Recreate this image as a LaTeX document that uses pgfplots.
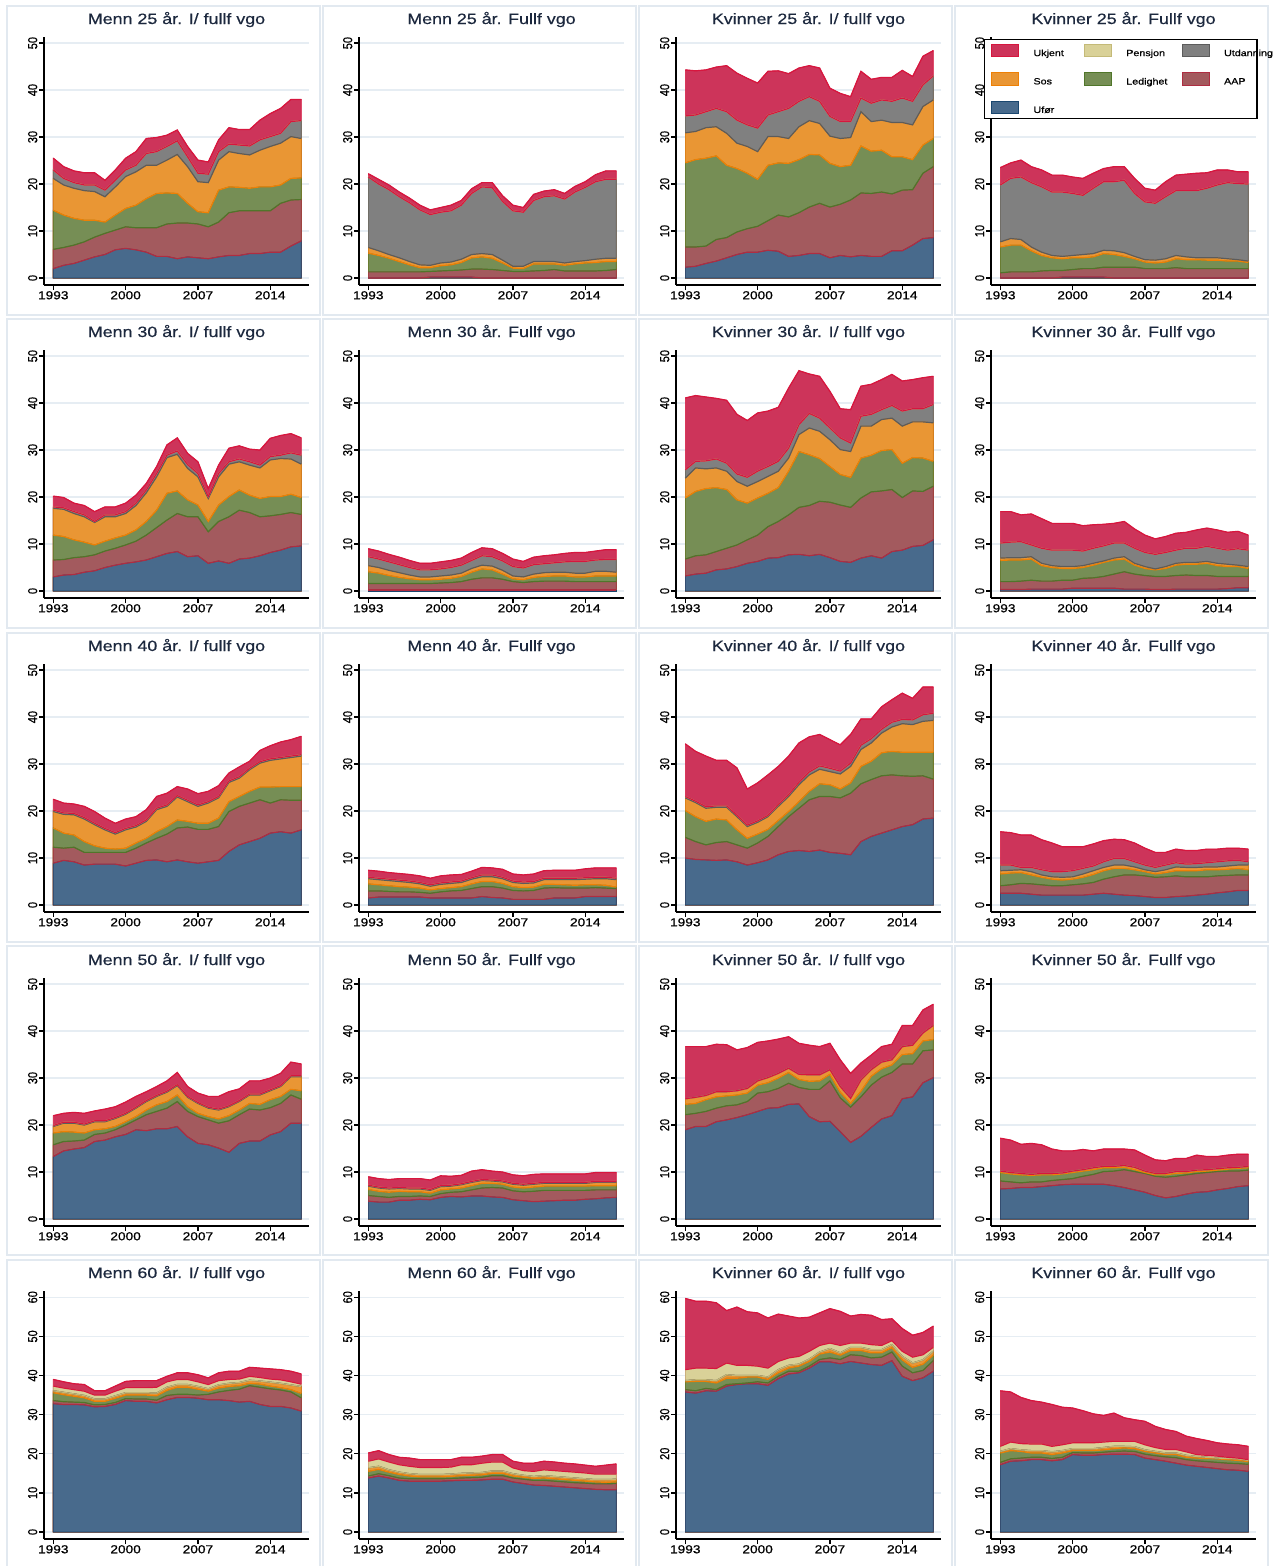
\documentclass[border=0pt]{standalone}
\usepackage{fontspec}
\setmainfont{Liberation Sans}
\newfontfamily\tickfont{Liberation Sans}[FakeBold=0.7]
\newfontfamily\titlefont{Liberation Sans}[FakeBold=0.35]
\usepackage{graphicx}
\usepackage{pgfplots}
\usepackage{pgfplotstable}
\pgfplotsset{compat=1.18}

\definecolor{cUf}{RGB}{72,106,140}   \definecolor{cUfD}{RGB}{26,71,111}
\definecolor{cAAP}{RGB}{163,90,94}   \definecolor{cAAPD}{RGB}{175,45,65}
\definecolor{cLed}{RGB}{118,142,85}  \definecolor{cLedD}{RGB}{80,118,42}
\definecolor{cSos}{RGB}{233,150,52}  \definecolor{cSosD}{RGB}{238,128,5}
\definecolor{cUtd}{RGB}{128,128,128} \definecolor{cUtdD}{RGB}{92,92,92}
\definecolor{cPen}{RGB}{217,209,152} \definecolor{cPenD}{RGB}{196,186,120}
\definecolor{cUk}{RGB}{205,52,90}    \definecolor{cUkD}{RGB}{215,22,62}
\definecolor{gridc}{RGB}{230,237,243}
\definecolor{panelb}{RGB}{226,233,240}
\definecolor{titlec}{RGB}{28,40,62}

\newcommand{\sx}[1]{\scalebox{1.19}[1]{#1}}
\newcommand{\sy}[1]{\scalebox{1}[1.19]{#1}}
\newcommand{\lgA}[1]{\makebox[65pt][l]{\hspace{15pt}\sx{#1}}}
\newcommand{\lgB}[1]{\makebox[71pt][l]{\hspace{15pt}\sx{#1}}}
\newcommand{\lgC}[1]{\makebox[41pt][l]{\hspace{14pt}\sx{#1}}}

% columns: yr, a=Ufor top, b=AAP top, c=Ledighet top, d=Sos top, e=Utdanning top, f=Pensjon top, g=Ukjent top (total)
\pgfplotstableread{
yr a b c d e f g
1993 2.0 6.1 14.4 21.2 23.0 23.0 25.5
1994 2.7 6.5 13.4 19.8 21.2 21.2 23.7
1995 3.1 7.0 12.7 19.1 20.3 20.3 22.8
1996 3.8 7.7 12.3 18.6 19.8 19.8 22.4
1997 4.5 8.7 12.3 18.4 19.8 19.8 22.4
1998 5.0 9.5 11.9 17.3 18.7 18.7 20.8
1999 6.0 10.2 13.4 19.4 20.8 20.8 23.0
2000 6.3 10.9 14.8 21.6 23.0 23.0 25.5
2001 6.0 10.7 15.5 22.6 24.0 24.0 26.9
2002 5.5 10.7 16.9 24.0 26.5 26.5 29.7
2003 4.6 10.7 18.0 24.0 26.9 26.9 29.9
2004 4.6 11.5 18.1 25.1 28.0 28.0 30.4
2005 4.1 11.7 18.0 26.3 29.2 29.2 31.5
2006 4.5 11.7 15.9 23.7 25.8 25.8 28.0
2007 4.3 11.5 14.1 20.5 22.3 22.3 25.1
2008 4.1 10.9 13.9 20.3 22.1 22.1 24.7
2009 4.5 11.9 18.7 25.1 26.9 26.9 29.4
2010 4.8 13.9 19.4 26.9 28.5 28.5 32.0
2011 4.8 14.3 19.3 26.5 28.3 28.3 31.6
2012 5.2 14.3 19.1 26.2 28.1 28.1 31.6
2013 5.2 14.3 19.4 27.2 29.4 29.4 33.6
2014 5.5 14.3 19.4 28.0 30.1 30.1 35.0
2015 5.5 15.9 19.8 28.7 30.8 30.8 36.1
2016 6.8 16.6 21.2 30.1 33.3 33.3 38.0
2017 7.9 16.7 21.3 29.7 33.5 33.5 38.0
}\pA
\pgfplotstableread{
yr a b c d e f g
1993 0.0 1.3 5.3 6.5 21.5 21.5 22.2
1994 0.0 1.3 4.8 5.8 20.0 20.0 21.0
1995 0.0 1.3 4.2 5.0 18.8 18.8 19.8
1996 0.0 1.3 3.5 4.3 17.3 17.3 18.3
1997 0.0 1.3 2.8 3.5 16.0 16.0 17.0
1998 0.0 1.3 2.2 2.8 14.5 14.5 15.5
1999 0.2 1.4 2.2 2.7 13.5 13.5 14.5
2000 0.2 1.5 2.6 3.2 14.0 14.0 15.0
2001 0.2 1.6 2.8 3.4 14.3 14.3 15.5
2002 0.2 1.7 3.3 4.0 15.5 15.5 16.5
2003 0.2 1.9 4.3 5.0 18.0 18.0 19.0
2004 0.0 1.9 4.5 5.2 19.4 19.4 20.3
2005 0.0 1.8 4.2 5.0 19.2 19.2 20.3
2006 0.0 1.6 3.2 3.8 16.3 16.3 17.5
2007 0.0 1.4 2.1 2.5 14.3 14.3 15.5
2008 0.0 1.4 2.0 2.5 14.0 14.0 15.0
2009 0.0 1.5 3.0 3.5 16.5 16.5 17.8
2010 0.0 1.6 3.0 3.5 17.3 17.3 18.5
2011 0.0 1.8 3.0 3.5 17.5 17.5 18.8
2012 0.0 1.5 2.7 3.2 16.8 16.8 18.0
2013 0.0 1.5 3.0 3.5 18.3 18.3 19.5
2014 0.0 1.5 3.2 3.7 19.3 19.3 20.5
2015 0.0 1.5 3.3 4.0 20.5 20.5 22.0
2016 0.0 1.6 3.5 4.2 21.0 21.0 22.8
2017 0.0 1.8 3.5 4.2 21.0 21.0 22.8
}\pB
\pgfplotstableread{
yr a b c d e f g
1993 2.3 6.6 24.5 30.9 34.5 34.5 44.3
1994 2.5 6.6 25.2 31.2 34.7 34.7 44.1
1995 3.1 6.8 25.5 32.0 35.4 35.4 44.3
1996 3.6 8.2 26.0 32.2 36.1 36.1 44.9
1997 4.3 8.6 24.0 30.8 35.4 35.4 45.2
1998 5.0 9.8 23.3 28.7 33.6 33.6 43.6
1999 5.5 10.5 22.3 28.0 32.6 32.6 42.5
2000 5.5 11.0 21.0 26.9 31.9 31.9 41.5
2001 5.9 12.2 24.0 30.1 34.7 34.7 44.0
2002 5.7 13.4 24.5 30.1 35.4 35.4 44.1
2003 4.6 13.0 24.4 29.7 36.1 36.1 43.5
2004 4.8 13.9 25.2 32.2 37.6 37.6 44.7
2005 5.2 15.1 26.3 33.5 38.6 38.6 45.2
2006 5.2 15.9 26.2 32.9 37.6 37.6 44.7
2007 4.3 15.1 24.4 30.2 34.4 34.4 40.4
2008 4.8 15.7 23.7 29.7 33.3 33.3 39.3
2009 4.5 16.6 24.0 29.9 33.3 33.3 38.6
2010 4.8 18.1 28.1 35.4 38.3 38.3 44.0
2011 4.6 18.0 27.0 33.3 37.2 37.2 42.3
2012 4.6 18.3 27.2 33.6 37.9 37.9 42.7
2013 5.8 17.9 25.8 33.1 37.6 37.6 42.7
2014 5.8 18.7 25.8 33.1 38.3 38.3 44.2
2015 7.0 18.8 25.2 32.6 37.6 37.6 42.9
2016 8.4 22.3 28.3 36.5 41.1 41.1 47.2
2017 8.6 23.7 29.7 37.9 43.0 43.0 48.4
}\pC
\pgfplotstableread{
yr a b c d e f g
1993 0.0 1.1 6.6 7.7 19.8 19.8 23.5
1994 0.0 1.3 7.0 8.4 21.2 21.2 24.5
1995 0.0 1.3 7.0 8.2 21.5 21.5 25.1
1996 0.0 1.3 5.8 6.6 20.3 20.3 23.7
1997 0.0 1.5 4.8 5.5 19.4 19.4 23.0
1998 0.0 1.6 4.3 4.8 18.3 18.3 21.9
1999 0.2 1.6 4.1 4.6 18.3 18.3 21.9
2000 0.2 1.8 4.3 4.8 18.0 18.0 21.5
2001 0.2 2.0 4.3 5.0 17.6 17.6 21.2
2002 0.2 2.0 4.5 5.2 19.1 19.1 22.3
2003 0.2 2.3 5.2 5.9 20.5 20.5 23.3
2004 0.0 2.3 5.0 5.8 20.5 20.5 23.7
2005 0.0 2.3 4.6 5.4 20.8 20.8 23.7
2006 0.0 2.3 4.1 4.6 18.0 18.0 21.2
2007 0.0 2.0 3.4 3.9 16.2 16.2 19.1
2008 0.0 2.0 3.2 3.8 15.9 15.9 18.7
2009 0.0 2.0 3.4 4.1 17.3 17.3 20.5
2010 0.0 2.2 4.1 4.8 18.6 18.6 21.9
2011 0.0 2.0 3.9 4.5 18.6 18.6 22.1
2012 0.0 2.0 3.9 4.3 18.6 18.6 22.3
2013 0.0 2.0 3.8 4.3 19.1 19.1 22.4
2014 0.0 2.0 3.8 4.3 19.8 19.8 23.0
2015 0.0 2.0 3.6 4.1 20.3 20.3 23.0
2016 0.0 2.0 3.6 3.9 20.1 20.1 22.6
2017 0.0 2.0 3.3 3.6 20.0 20.0 22.6
}\pD
\pgfplotstableread{
yr a b c d e f g
1993 3.0 6.6 11.9 17.6 17.9 17.9 20.2
1994 3.4 6.7 11.6 17.4 17.7 17.7 19.9
1995 3.5 7.1 10.9 16.5 16.9 16.9 18.7
1996 4.0 7.3 10.4 15.8 16.2 16.2 18.2
1997 4.3 7.7 9.8 14.6 14.8 14.8 16.9
1998 5.0 8.5 10.6 15.8 16.2 16.2 17.9
1999 5.5 9.1 11.3 15.8 16.2 16.2 17.9
2000 5.9 9.8 11.9 16.5 16.9 16.9 18.7
2001 6.2 10.6 13.0 18.2 18.7 18.7 20.4
2002 6.6 11.9 14.8 20.9 21.5 21.5 22.9
2003 7.3 13.5 17.2 24.3 25.0 25.0 26.5
2004 8.0 15.1 20.8 28.4 28.9 28.9 31.1
2005 8.4 16.5 21.3 29.1 29.8 29.8 32.6
2006 7.3 15.8 19.4 26.1 26.9 26.9 29.3
2007 7.5 15.8 18.3 24.3 25.0 25.0 27.5
2008 5.9 12.6 14.8 19.7 20.1 20.1 21.8
2009 6.4 14.8 18.3 24.3 25.0 25.0 26.8
2010 5.9 15.8 20.1 27.0 27.5 27.5 30.4
2011 6.8 17.2 21.5 27.5 28.1 28.1 30.9
2012 7.0 16.7 20.4 26.8 27.5 27.5 30.2
2013 7.5 15.8 19.7 26.2 26.8 26.8 30.0
2014 8.2 16.0 20.1 27.9 28.6 28.6 32.5
2015 8.7 16.3 20.1 28.2 28.9 28.9 33.1
2016 9.4 16.7 20.6 28.1 29.4 29.4 33.5
2017 9.6 16.3 19.9 27.0 28.9 28.9 32.6
}\pE
\pgfplotstableread{
yr a b c d e f g
1993 0.2 1.6 4.1 5.4 7.3 7.3 9.0
1994 0.2 1.6 3.8 5.0 6.8 6.8 8.5
1995 0.2 1.6 3.3 4.4 6.2 6.2 7.8
1996 0.2 1.6 2.9 3.9 5.6 5.6 7.2
1997 0.2 1.6 2.6 3.4 5.0 5.0 6.5
1998 0.2 1.6 2.4 3.0 4.5 4.5 5.9
1999 0.2 1.6 2.4 3.0 4.5 4.5 5.9
2000 0.2 1.7 2.5 3.2 4.7 4.7 6.2
2001 0.2 1.8 2.7 3.4 5.0 5.0 6.5
2002 0.2 2.0 3.1 3.8 5.5 5.5 7.0
2003 0.2 2.5 4.0 4.8 6.5 6.5 8.2
2004 0.2 2.8 4.7 5.5 7.5 7.5 9.2
2005 0.2 2.8 4.5 5.3 7.3 7.3 9.0
2006 0.2 2.5 3.6 4.4 6.4 6.4 8.0
2007 0.2 2.0 2.6 3.2 5.2 5.2 6.8
2008 0.2 1.8 2.4 3.0 4.9 4.9 6.3
2009 0.2 2.0 2.9 3.6 5.6 5.6 7.2
2010 0.2 2.1 3.1 3.9 5.8 5.8 7.5
2011 0.2 2.1 3.2 4.0 6.0 6.0 7.7
2012 0.2 2.1 3.2 4.0 6.2 6.2 8.0
2013 0.2 2.0 3.0 3.8 6.3 6.3 8.2
2014 0.2 2.0 3.0 3.8 6.3 6.3 8.2
2015 0.2 2.0 3.2 4.2 6.6 6.6 8.5
2016 0.2 2.0 3.2 4.2 6.7 6.7 8.8
2017 0.2 2.0 3.2 4.0 6.7 6.7 8.8
}\pF
\pgfplotstableread{
yr a b c d e f g
1993 3.2 6.8 19.8 24.0 25.8 25.8 41.1
1994 3.6 7.5 21.2 26.2 27.6 27.6 41.6
1995 3.8 7.7 21.8 26.0 27.7 27.7 41.3
1996 4.5 8.4 22.0 26.2 28.1 28.1 41.0
1997 4.7 9.1 21.6 25.5 27.2 27.2 40.6
1998 5.2 9.8 19.4 23.3 24.9 24.9 37.6
1999 5.9 10.9 18.7 22.3 24.2 24.2 36.3
2000 6.3 11.9 19.8 23.3 25.5 25.5 37.9
2001 7.0 13.7 20.8 24.4 26.5 26.5 38.3
2002 7.1 14.8 22.0 25.5 27.6 27.6 39.1
2003 7.7 16.2 25.5 28.3 30.4 30.4 43.2
2004 7.8 17.8 29.7 33.3 35.4 35.4 46.9
2005 7.5 18.2 29.0 34.7 37.8 37.8 46.2
2006 7.8 19.1 28.2 34.0 36.8 36.8 45.7
2007 7.1 18.9 26.5 32.2 34.7 34.7 42.5
2008 6.3 18.3 24.8 30.1 32.6 32.6 38.8
2009 6.1 17.8 24.2 29.7 31.5 31.5 38.6
2010 7.0 19.8 28.3 35.1 37.2 37.2 43.6
2011 7.5 21.1 28.9 35.1 37.6 37.6 44.0
2012 7.0 21.3 29.9 36.5 38.6 38.6 45.0
2013 8.4 21.6 30.1 36.8 39.5 39.5 46.1
2014 8.7 19.9 27.2 35.1 38.3 38.3 44.7
2015 9.5 21.3 28.4 36.0 38.8 38.8 45.0
2016 9.7 21.2 28.3 36.0 38.8 38.8 45.4
2017 10.9 22.3 27.6 35.8 39.7 39.7 45.7
}\pG
\pgfplotstableread{
yr a b c d e f g
1993 0.3 2.0 6.5 7.0 10.2 10.2 16.9
1994 0.3 2.0 6.6 7.1 10.4 10.4 16.9
1995 0.3 2.1 6.6 7.1 10.5 10.5 16.2
1996 0.4 2.3 6.8 7.3 9.8 9.8 16.4
1997 0.4 2.1 5.4 5.9 9.1 9.1 15.4
1998 0.4 2.1 5.0 5.4 8.7 8.7 14.4
1999 0.4 2.3 4.8 5.2 8.7 8.7 14.4
2000 0.6 2.3 4.8 5.2 8.7 8.7 14.4
2001 0.6 2.7 5.0 5.4 8.5 8.5 13.9
2002 0.6 2.8 5.5 5.9 9.1 9.1 14.1
2003 0.6 3.1 6.1 6.4 9.6 9.6 14.2
2004 0.6 3.6 6.6 7.0 10.2 10.2 14.4
2005 0.4 4.1 6.8 7.3 10.2 10.2 14.8
2006 0.4 3.6 5.5 5.9 9.1 9.1 13.2
2007 0.4 3.3 4.8 5.2 8.2 8.2 11.9
2008 0.3 3.1 4.5 4.7 7.8 7.8 11.1
2009 0.3 3.1 4.8 5.2 8.2 8.2 11.6
2010 0.4 3.3 5.5 5.9 8.7 8.7 12.3
2011 0.4 3.4 5.7 6.1 9.1 9.1 12.5
2012 0.4 3.3 5.7 6.1 9.1 9.1 13.0
2013 0.4 3.3 5.9 6.3 9.5 9.5 13.4
2014 0.4 3.1 5.4 5.9 9.1 9.1 13.0
2015 0.5 3.1 5.2 5.7 8.7 8.7 12.5
2016 0.7 3.1 5.2 5.5 9.0 9.0 12.7
2017 0.7 3.1 4.8 5.2 8.7 8.7 11.9
}\pH
\pgfplotstableread{
yr a b c d e f g
1993 8.9 12.3 16.4 19.9 20.2 20.2 22.5
1994 9.5 12.1 15.3 19.3 19.6 19.6 21.7
1995 9.2 12.3 14.9 19.2 19.5 19.5 21.5
1996 8.5 11.2 13.5 18.3 18.6 18.6 21.0
1997 8.7 11.2 12.6 17.1 17.4 17.4 19.9
1998 8.7 11.2 12.1 16.0 16.3 16.3 18.5
1999 8.7 11.2 11.9 15.1 15.4 15.4 17.4
2000 8.3 11.2 12.1 16.0 16.3 16.3 18.3
2001 8.9 12.1 13.2 16.6 16.9 16.9 18.8
2002 9.5 13.2 14.2 17.8 18.1 18.1 20.3
2003 9.6 14.2 15.6 20.3 20.6 20.6 23.1
2004 9.2 15.1 16.7 21.0 21.3 21.3 23.8
2005 9.6 16.4 18.1 23.0 23.3 23.3 25.2
2006 9.2 16.6 17.8 22.0 22.3 22.3 24.7
2007 8.9 16.1 17.4 21.0 21.3 21.3 23.7
2008 9.2 16.1 17.4 21.7 22.0 22.0 24.2
2009 9.5 16.7 18.5 22.8 23.1 23.1 25.4
2010 11.4 19.9 22.0 26.1 26.4 26.4 28.1
2011 12.8 21.0 23.1 27.0 27.3 27.3 29.4
2012 13.5 21.7 24.2 28.8 29.1 29.1 30.6
2013 14.2 22.4 25.1 30.2 30.5 30.5 32.9
2014 15.3 21.7 25.1 30.8 31.1 31.1 33.9
2015 15.6 22.4 25.2 31.1 31.4 31.4 34.7
2016 15.3 22.3 25.2 31.4 31.7 31.7 35.2
2017 16.0 22.3 25.2 31.7 32.0 32.0 35.9
}\pI
\pgfplotstableread{
yr a b c d e f g
1993 1.5 3.0 4.5 5.6 5.9 5.9 7.4
1994 1.7 3.0 4.3 5.4 5.7 5.7 7.2
1995 1.7 2.9 4.1 5.2 5.5 5.5 6.9
1996 1.7 2.8 3.9 5.0 5.3 5.3 6.7
1997 1.7 2.8 3.8 4.8 5.1 5.1 6.5
1998 1.7 2.7 3.6 4.5 4.8 4.8 6.2
1999 1.5 2.5 3.2 4.0 4.3 4.3 5.7
2000 1.5 2.8 3.5 4.4 4.7 4.7 6.2
2001 1.5 3.0 3.7 4.6 4.9 4.9 6.4
2002 1.5 3.1 3.9 4.8 5.1 5.1 6.5
2003 1.5 3.5 4.5 5.5 5.8 5.8 7.2
2004 1.8 3.9 5.0 6.0 6.4 6.4 8.0
2005 1.6 3.9 5.0 6.0 6.4 6.4 7.9
2006 1.5 3.6 4.6 5.6 5.9 5.9 7.6
2007 1.2 3.1 3.9 4.8 5.1 5.1 6.6
2008 1.2 3.0 3.7 4.6 4.9 4.9 6.4
2009 1.2 3.1 3.8 4.7 5.0 5.0 6.6
2010 1.2 3.6 4.4 5.4 5.7 5.7 7.3
2011 1.5 3.7 4.4 5.4 5.7 5.7 7.4
2012 1.5 3.6 4.3 5.4 5.7 5.7 7.4
2013 1.5 3.6 4.2 5.4 5.7 5.7 7.4
2014 1.8 3.6 4.3 5.5 5.8 5.8 7.7
2015 1.8 3.7 4.3 5.6 5.9 5.9 7.9
2016 1.8 3.6 4.2 5.6 5.9 5.9 7.9
2017 1.8 3.5 3.8 5.4 5.7 5.7 7.9
}\pJ
\pgfplotstableread{
yr a b c d e f g
1993 10.0 14.4 20.1 22.8 23.1 23.1 34.3
1994 9.7 13.5 18.8 21.8 22.1 22.1 32.7
1995 9.6 12.8 17.8 20.6 20.9 20.9 31.7
1996 9.5 13.3 18.3 20.8 21.1 21.1 30.8
1997 9.6 13.5 18.1 20.8 21.1 21.1 30.8
1998 9.2 12.8 16.0 18.8 19.1 19.1 29.2
1999 8.5 12.1 14.2 16.7 17.0 17.0 24.7
2000 9.0 13.2 15.1 17.6 17.9 17.9 26.0
2001 9.6 14.6 16.1 18.8 19.1 19.1 27.7
2002 10.7 16.7 18.0 21.0 21.4 21.4 29.5
2003 11.4 18.8 19.9 23.1 23.5 23.5 31.7
2004 11.6 20.6 22.0 25.6 26.1 26.1 34.5
2005 11.4 22.4 24.2 27.7 28.3 28.3 35.8
2006 11.7 23.1 25.8 28.9 29.6 29.6 36.3
2007 11.2 23.1 25.6 28.4 29.1 29.1 35.2
2008 11.0 22.8 24.7 27.9 28.5 28.5 34.1
2009 10.7 23.8 26.0 29.5 30.2 30.2 36.3
2010 13.5 25.8 29.5 33.1 34.0 34.0 39.6
2011 14.6 26.7 30.6 34.5 35.4 35.4 39.6
2012 15.3 27.5 32.4 36.6 37.4 37.4 42.2
2013 16.0 27.7 32.7 37.9 38.9 38.9 43.7
2014 16.7 27.5 32.5 38.6 39.5 39.5 45.1
2015 17.1 27.4 32.5 38.4 39.4 39.4 44.0
2016 18.3 27.5 32.5 39.1 40.5 40.5 46.4
2017 18.5 26.8 32.5 39.3 40.8 40.8 46.4
}\pK
\pgfplotstableread{
yr a b c d e f g
1993 2.5 4.1 6.6 7.3 8.5 8.5 15.6
1994 2.5 4.3 6.8 7.4 8.5 8.5 15.4
1995 2.5 4.6 6.9 7.5 8.0 8.0 14.9
1996 2.3 4.5 6.4 7.1 8.0 8.0 14.9
1997 2.1 4.3 5.9 6.4 7.5 7.5 13.9
1998 2.1 4.1 5.5 6.0 7.1 7.1 13.2
1999 2.1 4.1 5.3 5.9 7.1 7.1 12.4
2000 2.1 4.3 5.5 6.0 7.3 7.3 12.4
2001 2.1 4.5 5.9 6.6 7.8 7.8 12.4
2002 2.3 4.8 6.5 7.3 8.3 8.3 13.0
2003 2.5 5.5 7.3 8.0 9.2 9.2 13.7
2004 2.3 6.0 7.8 8.5 9.9 9.9 14.0
2005 2.1 6.4 7.8 8.5 9.9 9.9 13.9
2006 2.0 6.4 7.5 8.1 9.2 9.2 13.2
2007 1.8 6.2 7.1 7.5 8.5 8.5 12.1
2008 1.6 5.9 6.6 7.1 8.0 8.0 11.2
2009 1.6 6.0 6.9 7.5 8.5 8.5 11.2
2010 1.8 6.2 7.3 8.1 9.0 9.0 11.9
2011 1.9 6.0 7.3 8.0 8.7 8.7 11.6
2012 2.1 6.0 7.3 8.0 8.8 8.8 11.6
2013 2.3 6.0 7.5 8.1 9.0 9.0 11.9
2014 2.6 6.2 7.5 8.1 9.2 9.2 11.9
2015 2.8 6.3 7.6 8.3 9.4 9.4 12.1
2016 3.1 6.4 7.8 8.5 9.5 9.5 12.1
2017 3.1 6.4 7.5 8.5 9.2 9.2 11.9
}\pL
\pgfplotstableread{
yr a b c d e f g
1993 13.3 15.8 18.3 19.7 19.9 19.9 22.0
1994 14.5 16.5 18.6 20.4 20.6 20.6 22.5
1995 14.9 16.6 18.5 20.4 20.6 20.6 22.7
1996 15.2 16.8 18.3 20.0 20.2 20.2 22.5
1997 16.5 18.0 19.0 20.7 20.9 20.9 23.0
1998 16.8 18.3 19.2 20.7 20.9 20.9 23.4
1999 17.5 19.0 19.7 21.4 21.6 21.6 23.9
2000 18.0 20.0 20.7 22.3 22.5 22.5 24.9
2001 19.0 21.1 21.8 23.6 23.8 23.8 26.1
2002 18.8 22.2 23.2 25.0 25.2 25.2 27.1
2003 19.2 22.9 24.3 26.1 26.3 26.3 28.2
2004 19.2 23.6 25.0 27.0 27.2 27.2 29.4
2005 19.7 25.0 26.4 28.4 28.6 28.6 31.2
2006 17.5 22.9 23.9 25.9 26.1 26.1 28.2
2007 16.1 21.8 22.5 24.6 24.8 24.8 26.8
2008 15.8 21.1 21.8 23.6 23.8 23.8 26.1
2009 15.1 20.4 21.3 23.2 23.4 23.4 26.1
2010 14.2 20.9 22.0 23.9 24.1 24.1 27.1
2011 16.1 22.2 23.2 25.0 25.2 25.2 27.7
2012 16.6 23.4 24.6 26.4 26.6 26.6 29.4
2013 16.6 23.2 24.4 26.4 26.6 26.6 29.4
2014 17.9 23.7 25.4 27.3 27.5 27.5 30.0
2015 18.6 24.6 26.1 28.2 28.4 28.4 31.0
2016 20.4 26.4 27.6 30.3 30.5 30.5 33.4
2017 20.4 25.5 27.3 30.3 30.5 30.5 33.0
}\pM
\pgfplotstableread{
yr a b c d e f g
1993 3.8 5.0 6.3 7.0 7.2 7.2 9.0
1994 3.6 4.8 5.9 6.6 6.8 6.8 8.6
1995 3.6 4.6 5.7 6.4 6.6 6.6 8.4
1996 4.0 4.8 5.9 6.5 6.7 6.7 8.6
1997 4.0 4.8 5.8 6.4 6.6 6.6 8.6
1998 4.2 4.9 5.8 6.4 6.6 6.6 8.6
1999 4.1 4.8 5.5 6.1 6.3 6.3 8.3
2000 4.6 5.4 6.2 6.9 7.1 7.1 9.2
2001 4.8 5.7 6.4 7.0 7.2 7.2 9.1
2002 4.7 5.8 6.6 7.3 7.5 7.5 9.3
2003 4.9 6.2 7.1 7.8 8.0 8.0 10.2
2004 4.9 6.6 7.6 8.2 8.4 8.4 10.5
2005 4.7 6.7 7.6 8.1 8.3 8.3 10.2
2006 4.6 6.6 7.4 7.9 8.1 8.1 10.0
2007 4.1 6.0 6.8 7.4 7.6 7.6 9.4
2008 3.9 5.8 6.6 7.2 7.4 7.4 9.2
2009 3.7 5.9 6.8 7.4 7.6 7.6 9.5
2010 3.8 6.1 7.0 7.6 7.8 7.8 9.6
2011 3.9 6.1 7.0 7.6 7.8 7.8 9.6
2012 4.0 6.1 7.0 7.6 7.8 7.8 9.6
2013 4.0 6.1 7.0 7.6 7.8 7.8 9.6
2014 4.2 6.1 7.0 7.6 7.8 7.8 9.6
2015 4.3 6.2 7.1 7.8 8.0 8.0 9.9
2016 4.5 6.2 7.1 7.8 8.0 8.0 9.9
2017 4.6 6.2 7.1 7.8 8.0 8.0 9.9
}\pN
\pgfplotstableread{
yr a b c d e f g
1993 19.0 22.2 24.4 25.6 25.6 25.6 36.7
1994 19.7 22.5 24.6 25.9 25.9 25.9 36.7
1995 19.7 22.9 25.4 26.3 26.3 26.3 36.7
1996 20.7 23.6 26.0 27.1 27.1 27.1 37.2
1997 21.1 24.1 26.2 27.1 27.1 27.1 37.1
1998 21.6 24.3 26.4 27.3 27.3 27.3 36.0
1999 22.2 25.0 26.8 27.8 27.8 27.8 36.5
2000 22.9 26.8 28.5 29.4 29.4 29.4 37.6
2001 23.6 27.1 29.0 30.1 30.1 30.1 37.9
2002 23.7 27.8 30.0 31.0 31.0 31.0 38.3
2003 24.4 28.9 31.2 32.1 32.1 32.1 38.8
2004 24.5 28.0 29.7 30.8 30.8 30.8 37.4
2005 21.8 27.6 29.3 30.7 30.7 30.7 37.0
2006 20.7 27.6 29.4 30.7 30.7 30.7 36.7
2007 20.8 29.4 30.8 31.8 31.8 31.8 37.4
2008 18.6 25.8 27.0 28.2 28.2 28.2 33.9
2009 16.3 23.8 24.6 25.7 25.7 25.7 31.0
2010 17.6 26.0 27.2 29.6 29.6 29.6 33.2
2011 19.5 28.5 30.4 31.8 31.8 31.8 34.9
2012 21.3 30.2 32.0 33.4 33.4 33.4 36.7
2013 22.0 31.2 32.8 33.9 33.9 33.9 37.2
2014 25.6 33.0 35.0 36.7 36.7 36.7 41.2
2015 26.0 33.0 35.2 37.0 37.0 37.0 41.2
2016 29.0 35.8 37.9 39.6 39.6 39.6 44.5
2017 30.1 36.0 38.2 41.2 41.2 41.2 45.7
}\pO
\pgfplotstableread{
yr a b c d e f g
1993 6.4 8.1 9.9 10.2 10.2 10.2 17.2
1994 6.5 7.9 9.6 9.9 9.9 9.9 16.8
1995 6.7 7.7 9.4 9.7 9.7 9.7 15.9
1996 6.7 7.9 9.3 9.5 9.5 9.5 16.1
1997 6.9 7.9 9.4 9.7 9.7 9.7 15.8
1998 7.1 8.2 9.4 9.7 9.7 9.7 14.9
1999 7.3 8.4 9.6 9.8 9.8 9.8 14.5
2000 7.4 8.6 9.9 10.2 10.2 10.2 14.5
2001 7.4 9.1 10.2 10.5 10.5 10.5 14.8
2002 7.4 9.5 10.5 10.9 10.9 10.9 14.5
2003 7.4 10.1 10.9 11.2 11.2 11.2 14.9
2004 7.1 10.2 10.9 11.2 11.2 11.2 14.9
2005 6.7 10.5 11.0 11.4 11.4 11.4 14.9
2006 6.2 10.1 10.5 11.0 11.0 11.0 14.7
2007 5.7 9.7 9.9 10.2 10.2 10.2 13.6
2008 5.0 9.1 9.4 9.7 9.7 9.7 12.6
2009 4.5 8.9 9.4 9.7 9.7 9.7 12.4
2010 4.8 9.1 9.7 10.1 10.1 10.1 12.9
2011 5.3 9.4 9.8 10.1 10.1 10.1 12.9
2012 5.7 9.7 10.1 10.4 10.4 10.4 13.6
2013 5.8 9.9 10.2 10.5 10.5 10.5 13.3
2014 6.2 10.1 10.4 10.7 10.7 10.7 13.3
2015 6.5 10.2 10.6 10.9 10.9 10.9 13.6
2016 6.9 10.2 10.8 11.0 11.0 11.0 13.8
2017 7.1 10.4 10.9 11.2 11.2 11.2 13.8
}\pP
\pgfplotstableread{
yr a b c d e f g
1993 32.8 33.6 35.6 36.1 36.1 37.3 39.0
1994 32.6 33.3 35.1 35.7 35.7 36.8 38.4
1995 32.6 33.2 34.7 35.3 35.3 36.4 37.9
1996 32.5 33.1 34.3 34.9 34.9 36.0 37.7
1997 32.0 32.5 33.4 34.0 34.0 35.0 36.1
1998 32.1 32.6 33.4 34.0 34.0 35.0 36.1
1999 32.6 33.1 34.2 34.8 34.8 36.0 37.3
2000 33.6 34.1 35.0 35.6 35.6 36.9 38.5
2001 33.4 34.0 35.0 35.6 35.6 36.9 38.7
2002 33.4 34.0 35.0 35.6 35.6 36.9 38.7
2003 33.0 33.7 34.8 35.5 35.5 37.0 38.7
2004 33.8 34.9 36.2 37.0 37.0 38.4 39.8
2005 34.4 35.2 37.0 37.7 37.7 39.0 40.7
2006 34.4 35.2 37.0 37.7 37.7 39.0 40.7
2007 34.2 35.0 36.5 37.2 37.2 38.4 40.2
2008 33.8 35.2 36.0 36.6 36.6 37.7 39.4
2009 33.8 35.8 36.8 37.6 37.6 38.7 40.7
2010 33.6 36.2 37.2 38.0 38.0 39.0 41.1
2011 33.2 36.5 37.4 38.2 38.2 39.1 41.1
2012 33.4 37.4 38.0 38.8 38.8 39.8 42.1
2013 32.6 37.0 37.8 38.6 38.6 39.5 41.9
2014 32.1 36.6 37.3 38.3 38.3 39.1 41.7
2015 32.1 36.3 36.9 38.0 38.0 38.9 41.5
2016 31.7 35.8 36.4 37.6 37.6 38.4 41.1
2017 30.9 34.3 35.4 37.2 37.2 37.8 40.4
}\pQ
\pgfplotstableread{
yr a b c d e f g
1993 13.8 14.3 15.5 16.4 16.4 18.1 20.2
1994 14.3 14.9 16.0 16.8 16.8 18.7 20.8
1995 13.8 14.4 15.3 15.9 15.9 17.9 19.8
1996 13.2 13.8 14.7 15.3 15.3 17.2 19.1
1997 13.0 13.6 14.3 14.9 14.9 16.8 18.9
1998 13.0 13.6 14.1 14.7 14.7 16.5 18.5
1999 13.0 13.6 14.1 14.7 14.7 16.5 18.5
2000 13.0 13.6 14.1 14.7 14.7 16.5 18.5
2001 13.1 13.7 14.2 14.8 14.8 16.6 18.5
2002 13.2 13.8 14.4 15.0 15.0 17.2 19.1
2003 13.2 13.9 14.5 15.1 15.1 17.2 19.1
2004 13.3 14.0 14.6 15.2 15.2 17.6 19.4
2005 13.5 14.4 15.0 15.6 15.6 17.9 19.8
2006 13.5 14.4 15.0 15.6 15.6 17.9 19.8
2007 12.8 13.8 14.3 14.9 14.9 16.4 18.1
2008 12.4 13.5 14.0 14.5 14.5 15.7 17.6
2009 12.0 13.2 13.7 14.2 14.2 15.5 17.6
2010 11.9 13.2 13.8 14.4 14.4 15.9 18.1
2011 11.7 13.0 13.6 14.2 14.2 15.7 17.9
2012 11.5 12.8 13.4 14.0 14.0 15.5 17.6
2013 11.3 12.6 13.2 13.8 13.8 15.3 17.4
2014 11.1 12.5 13.0 13.6 13.6 15.1 17.1
2015 10.9 12.3 12.8 13.4 13.4 14.8 16.8
2016 10.8 12.3 12.7 13.4 13.4 14.8 17.1
2017 10.8 12.4 12.8 13.5 13.5 14.8 17.4
}\pR
\pgfplotstableread{
yr a b c d e f g
1993 35.8 36.4 38.4 38.7 38.7 41.5 59.7
1994 35.5 36.1 38.5 38.9 38.9 41.9 59.0
1995 36.1 36.7 38.5 38.9 38.9 41.9 59.0
1996 36.0 36.4 38.1 38.7 38.7 41.8 58.6
1997 37.3 37.7 39.3 40.2 40.2 43.2 56.6
1998 37.7 37.9 39.3 40.0 40.0 42.6 57.5
1999 37.9 38.1 39.6 40.0 40.0 42.6 56.3
2000 37.9 38.4 39.6 40.0 40.0 42.4 56.0
2001 37.5 38.1 39.0 39.6 39.6 41.9 54.7
2002 39.2 39.8 40.7 41.5 41.5 43.6 55.7
2003 40.4 41.1 41.9 42.6 42.6 44.5 55.2
2004 40.7 41.1 42.4 42.9 42.9 44.9 54.7
2005 41.9 42.4 43.6 44.2 44.2 46.2 54.9
2006 43.5 44.1 45.5 46.0 46.0 47.7 56.0
2007 43.5 44.5 46.0 46.9 46.9 48.3 57.1
2008 43.0 44.1 45.2 45.8 45.8 47.7 56.4
2009 43.6 45.3 46.4 47.2 47.2 48.3 55.2
2010 43.2 45.1 46.4 47.2 47.2 48.3 55.6
2011 42.8 44.5 45.8 46.6 46.6 47.9 55.4
2012 42.6 44.7 45.8 46.6 46.6 47.7 54.3
2013 43.8 46.0 47.1 47.9 47.9 48.9 54.5
2014 39.8 42.4 44.0 44.9 44.9 46.2 52.0
2015 38.7 40.7 42.1 43.2 43.2 44.7 50.3
2016 39.4 41.3 42.9 44.0 44.0 45.3 51.0
2017 41.1 43.8 45.2 46.2 46.2 47.2 52.6
}\pS
\pgfplotstableread{
yr a b c d e f g
1993 17.2 17.8 20.2 20.6 20.6 21.9 36.1
1994 18.1 18.7 20.8 21.3 21.3 23.0 35.8
1995 18.2 18.9 20.6 21.0 21.0 22.6 34.4
1996 18.5 19.1 20.2 20.8 20.8 22.5 33.6
1997 18.5 19.1 20.2 20.8 20.8 22.5 33.2
1998 18.2 18.8 19.8 20.5 20.5 21.9 32.6
1999 18.5 19.1 20.2 20.8 20.8 22.3 31.9
2000 19.8 20.3 20.8 21.3 21.3 22.8 31.7
2001 19.6 20.2 20.8 21.3 21.3 22.8 31.0
2002 19.6 20.2 20.8 21.3 21.3 22.8 30.2
2003 19.8 20.4 21.0 21.6 21.6 23.0 29.8
2004 19.9 20.6 21.3 21.9 21.9 23.2 30.4
2005 19.9 20.7 21.5 21.9 21.9 23.2 29.2
2006 19.8 20.6 21.3 21.8 21.8 23.2 28.7
2007 18.9 19.9 20.6 21.0 21.0 22.3 28.3
2008 18.5 19.5 20.2 20.6 20.6 21.6 27.0
2009 18.1 19.2 19.8 20.2 20.2 21.1 26.2
2010 17.6 19.0 19.8 20.2 20.2 21.1 25.7
2011 17.1 18.5 19.1 19.6 19.6 20.5 24.5
2012 16.8 18.2 18.9 19.3 19.3 19.8 23.9
2013 16.5 18.0 18.8 19.1 19.1 19.6 23.4
2014 16.2 17.8 18.7 18.9 18.9 19.4 22.8
2015 15.9 17.6 18.5 18.8 18.8 19.1 22.5
2016 15.8 17.5 18.3 18.7 18.7 18.9 22.3
2017 15.5 17.3 18.0 18.3 18.3 18.5 21.9
}\pT

\pgfplotsset{
  base/.style={
    scale only axis, width=265pt, height=248pt,
    xmin=1992.1, xmax=2017.75,
    axis x line*=bottom, axis y line*=left,
    axis line style={black, line width=1.7pt, -},
    xtick={1993,2000,2007,2014},
    xticklabels={\sx{1993},\sx{2000},\sx{2007},\sx{2014}},
    tick align=outside, major tick length=5pt,
    tick style={black, line width=1.4pt},
    ymajorgrids, grid style={gridc, line width=1.4pt},
    x tick label style={font=\tickfont\fontsize{11.5}{12}\selectfont, inner sep=1pt},
    y tick label style={font=\tickfont\fontsize{11}{12}\selectfont, rotate=90, anchor=south, inner sep=1.5pt},
    title style={font=\titlefont\fontsize{15}{16}\selectfont, color=titlec, at={(axis description cs:0.5,1)}, anchor=base, yshift=7pt},
  },
  rowA/.style={ymin=-1.49, ymax=51.3, ytick={0,10,20,30,40,50},
    yticklabels={\sy{0},\sy{10},\sy{20},\sy{30},\sy{40},\sy{50}}},
  rowB/.style={ymin=-1.79, ymax=61.6, ytick={0,10,20,30,40,50,60},
    yticklabels={\sy{0},\sy{10},\sy{20},\sy{30},\sy{40},\sy{50},\sy{60}}},
  ar/.style={line width=0.6pt},
  bd/.style={line width=1.2pt, forget plot},
}

\newcommand{\panel}[6]{%
\begin{axis}[base, #5, at={(#3pt,-#4pt)}, anchor=south west, title={\sx{#2}}]
\addplot[ar, fill=cUk, draw=cUkD] table[x=yr,y=g]{#1} \closedcycle;
\addplot[ar, fill=cPen, draw=cPenD] table[x=yr,y=f]{#1} \closedcycle;
\addplot[ar, fill=cUtd, draw=cUtdD] table[x=yr,y=e]{#1} \closedcycle;
\addplot[ar, fill=cSos, draw=cSosD] table[x=yr,y=d]{#1} \closedcycle;
\addplot[ar, fill=cLed, draw=cLedD] table[x=yr,y=c]{#1} \closedcycle;
\addplot[ar, fill=cAAP, draw=cAAPD] table[x=yr,y=b]{#1} \closedcycle;
\addplot[ar, fill=cUf, draw=cUfD] table[x=yr,y=a]{#1} \closedcycle;
\addplot[bd, cAAPD] table[x=yr,y=a]{#1};
\addplot[bd, cLedD] table[x=yr,y=b]{#1};
\addplot[bd, cSosD] table[x=yr,y=c]{#1};
\addplot[bd, cUtdD] table[x=yr,y=d]{#1};
\addplot[bd, cPenD] table[x=yr,y=e]{#1};
\addplot[bd, cUkD] table[x=yr,y=f]{#1};
\addplot[bd, cUkD] table[x=yr,y=g]{#1};
#6
\end{axis}}

\begin{document}
\begin{tikzpicture}[x=1pt,y=1pt]
\useasboundingbox (0,0) rectangle (1280,-1566);
\fill[white] (0,0) rectangle (1280,-1566);
\foreach \L in {7,323,639,955}{
  \foreach \T in {6,319,633,946,1260}{
    \draw[panelb, line width=1.6pt, fill=white] (\L,-\T) rectangle ++(313,-309);
  }
}
% Row 1
\panel{\pA}{Menn 25 år. I/ fullf vgo}{44}{285}{rowA}{}
\panel{\pB}{Menn 25 år. Fullf vgo}{359}{285}{rowA}{}
\panel{\pC}{Kvinner 25 år. I/ fullf vgo}{676}{285}{rowA}{}
\panel{\pD}{Kvinner 25 år. Fullf vgo}{991}{285}{rowA,
  legend columns=3, legend cell align=left,
  legend image code/.code={\draw[#1, line width=0.8pt] (0pt,-3pt) rectangle (27pt,9.5pt);},
  legend style={at={(axis description cs:0,1)}, anchor=north west, xshift=-7pt, yshift=-2pt,
    draw=black, line width=1.4pt, fill=white, inner xsep=6pt, inner ysep=4pt,
    row sep=14.5pt, column sep=0pt,
    font=\tickfont\fontsize{9}{10}\selectfont, nodes={inner sep=0pt}}}{%
  \legend{\lgA{Ukjent},\lgB{Pensjon},\lgC{Utdanning},\lgA{Sos},\lgB{Ledighet},\lgC{AAP},\lgA{Ufør}}}
% Row 2
\panel{\pE}{Menn 30 år. I/ fullf vgo}{44}{598}{rowA}{}
\panel{\pF}{Menn 30 år. Fullf vgo}{359}{598}{rowA}{}
\panel{\pG}{Kvinner 30 år. I/ fullf vgo}{676}{598}{rowA}{}
\panel{\pH}{Kvinner 30 år. Fullf vgo}{991}{598}{rowA}{}
% Row 3
\panel{\pI}{Menn 40 år. I/ fullf vgo}{44}{912}{rowA}{}
\panel{\pJ}{Menn 40 år. Fullf vgo}{359}{912}{rowA}{}
\panel{\pK}{Kvinner 40 år. I/ fullf vgo}{676}{912}{rowA}{}
\panel{\pL}{Kvinner 40 år. Fullf vgo}{991}{912}{rowA}{}
% Row 4
\panel{\pM}{Menn 50 år. I/ fullf vgo}{44}{1226}{rowA}{}
\panel{\pN}{Menn 50 år. Fullf vgo}{359}{1226}{rowA}{}
\panel{\pO}{Kvinner 50 år. I/ fullf vgo}{676}{1226}{rowA}{}
\panel{\pP}{Kvinner 50 år. Fullf vgo}{991}{1226}{rowA}{}
% Row 5
\panel{\pQ}{Menn 60 år. I/ fullf vgo}{44}{1539}{rowB}{}
\panel{\pR}{Menn 60 år. Fullf vgo}{359}{1539}{rowB}{}
\panel{\pS}{Kvinner 60 år. I/ fullf vgo}{676}{1539}{rowB}{}
\panel{\pT}{Kvinner 60 år. Fullf vgo}{991}{1539}{rowB}{}
\end{tikzpicture}
\end{document}
